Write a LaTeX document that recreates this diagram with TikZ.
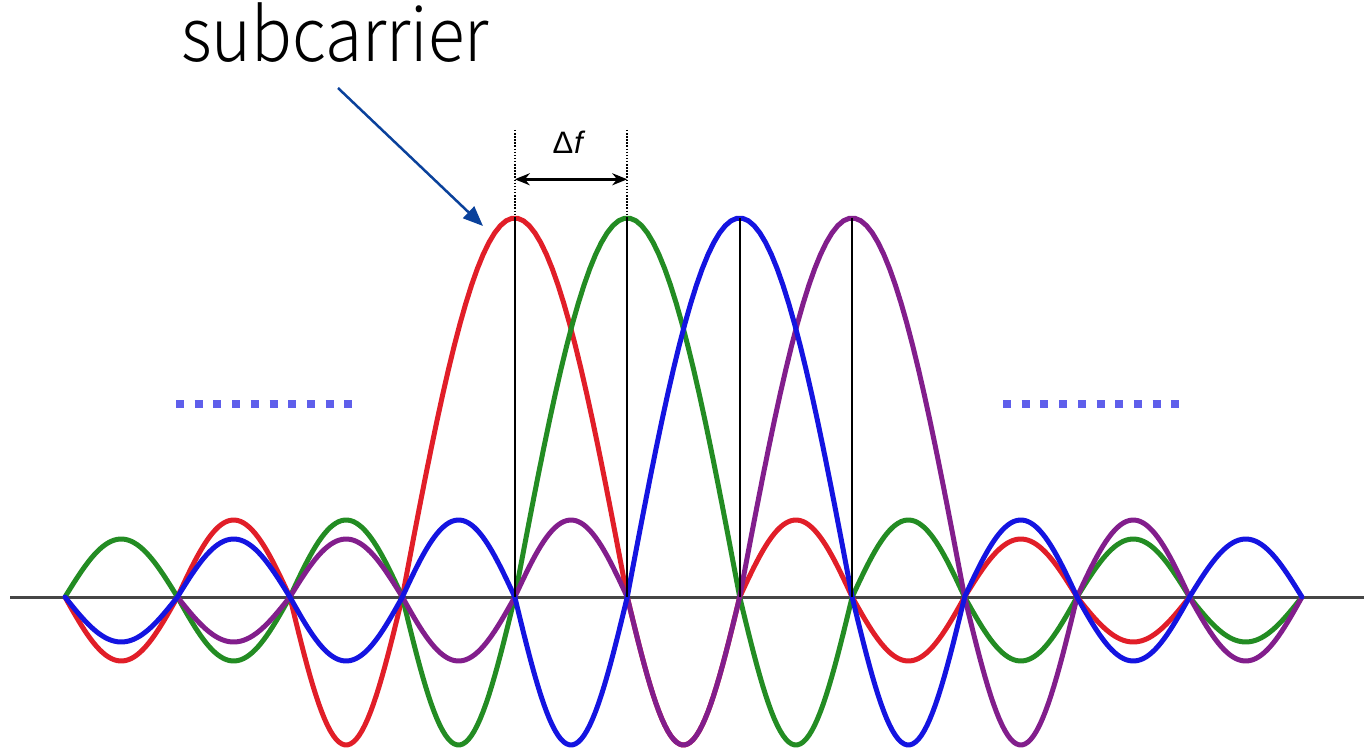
\documentclass[tikz,border=0pt]{standalone}
\usepackage{fontspec}
\newfontfamily\subfont{Noto Sans CJK SC Light}
\newfontfamily\dfont{Liberation Sans}
\usetikzlibrary{arrows.meta}
\definecolor{cred}{RGB}{225,30,40}
\definecolor{cgreen}{RGB}{35,140,35}
\definecolor{cblue}{RGB}{20,20,225}
\definecolor{cpurple}{RGB}{130,30,140}
\definecolor{cdots}{RGB}{95,95,235}
\definecolor{carrow}{RGB}{10,65,155}
\definecolor{caxis}{RGB}{70,70,70}
\tikzset{
  wave/.style={line width=5pt, line join=round, line cap=round},
  stem/.style={line width=1.8pt, black},
  guide/.style={line width=1.8pt, black, dash pattern=on 1.5pt off 1.6pt},
  ellip/.style={line width=8pt, cdots, dash pattern=on 8pt off 10.7pt},
}
\begin{document}
\begin{tikzpicture}[x=1pt,y=-1pt]
\useasboundingbox (0,0) rectangle (1364,751);
\def\sp{112.45}
% axis
\coordinate (axL) at (10,597);
\coordinate (axRt) at (1364,597);
\draw[caxis, line width=3pt] (axL) -- (axRt);
% waves
\draw[wave,cred] (65,597) \foreach \pk/\pw/\pa in {0/1/-64,1/1/77,2/1/-148,3/2/379,5/1/-148,6/1/77,7/1/-64,8/1/58,9/1/-45}
  { -- plot[domain=0:180,samples=40] ({65+\sp*(\pk+\pw*\x/180)},{597-\pa*sin(\x)}) };
\draw[wave,cgreen] (65,597) \foreach \pk/\pw/\pa in {0/1/58,1/1/-64,2/1/77,3/1/-148,4/2/379,6/1/-148,7/1/77,8/1/-64,9/1/58,10/1/-45}
  { -- plot[domain=0:180,samples=40] ({65+\sp*(\pk+\pw*\x/180)},{597-\pa*sin(\x)}) };
\draw[wave,cpurple] (177.45,597) \foreach \pk/\pw/\pa in {1/1/-45,2/1/58,3/1/-64,4/1/77,5/1/-148,6/2/379,8/1/-148,9/1/77,10/1/-64}
  { -- plot[domain=0:180,samples=40] ({65+\sp*(\pk+\pw*\x/180)},{597-\pa*sin(\x)}) };
\draw[wave,cblue] (65,597) \foreach \pk/\pw/\pa in {0/1/-45,1/1/58,2/1/-64,3/1/77,4/1/-148,5/2/379,7/1/-148,8/1/77,9/1/-64,10/1/58}
  { -- plot[domain=0:180,samples=40] ({65+\sp*(\pk+\pw*\x/180)},{597-\pa*sin(\x)}) };
% stems
\foreach \n/\k in {R/4,G/5,B/6,P/7}{
  \coordinate (pk\n) at ({65+\sp*\k},218);
  \coordinate (ax\n) at ({65+\sp*\k},597);
  \coordinate (top\n) at ({65+\sp*\k},130);
}
\foreach \n in {R,G,B,P}{ \draw[stem] (pk\n) -- (ax\n); }
\draw[guide] (topR) -- (pkR);
\draw[guide] (topG) -- (pkG);
% delta f
\path (topR) -- (pkR) coordinate[pos=0.56] (dfL);
\path (topG) -- (pkG) coordinate[pos=0.56] (dfR);
\draw[black, line width=2.6pt, {Stealth[length=15pt,width=12pt]}-{Stealth[length=15pt,width=12pt]}] (dfL) -- (dfR);
\node[font=\dfont\fontsize{31}{34}\selectfont, inner sep=0pt, anchor=base] (df) at (569,154) {Δ\kern1pt\textit{f}};
% ellipsis dots
\coordinate (elL1) at (176,404);
\coordinate (elL2) at (355,404);
\coordinate (elR1) at (1003,404);
\coordinate (elR2) at (1182,404);
\draw[ellip] (elL1) -- (elL2);
\draw[ellip] (elR1) -- (elR2);
% label
\node[font=\subfont\fontsize{74}{78}\selectfont, inner sep=0pt, text height=53pt, text depth=2pt, anchor=base, xscale=0.913, transform shape] (sub) at (335,62) {subcarrier};
\coordinate (arS) at (338,88);
\coordinate (arE) at (483,226);
\draw[carrow, line width=2.5pt, -{Triangle[length=20pt,width=16pt]}] (arS) -- (arE);
\end{tikzpicture}
\end{document}
